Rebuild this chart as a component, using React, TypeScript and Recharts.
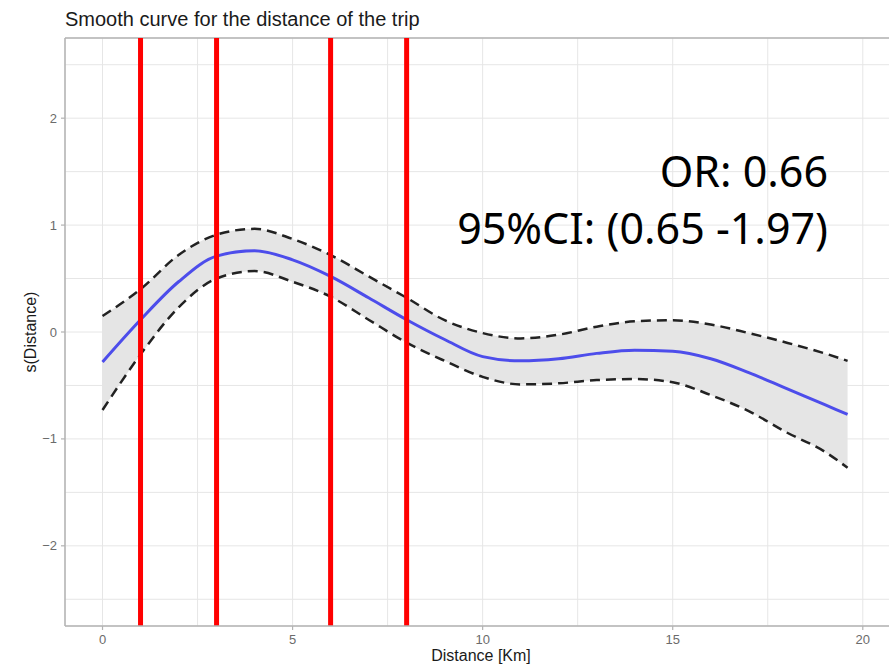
import React from 'react';
import { ComposedChart, Area, Line, XAxis, YAxis, CartesianGrid, ReferenceLine } from 'recharts';

const distance = [0, 1, 2, 3, 4, 5, 6, 7, 8, 9, 10, 11, 12, 13, 14, 15, 16, 17, 18, 19, 19.6];
const fit = [-0.28, 0.115, 0.47, 0.71, 0.76, 0.675, 0.52, 0.32, 0.115, -0.07, -0.23, -0.27, -0.25, -0.2, -0.17, -0.18, -0.25, -0.38, -0.53, -0.68, -0.77];
const upper = [0.15, 0.4, 0.72, 0.91, 0.965, 0.87, 0.72, 0.52, 0.32, 0.11, -0.01, -0.06, -0.025, 0.05, 0.1, 0.11, 0.07, -0.01, -0.1, -0.2, -0.27];
const lower = [-0.73, -0.21, 0.23, 0.5, 0.57, 0.47, 0.33, 0.115, -0.1, -0.27, -0.42, -0.49, -0.48, -0.45, -0.44, -0.47, -0.59, -0.74, -0.94, -1.12, -1.27];
const cutPoints = [1, 3, 6, 8];
const xTicks = [0, 2.5, 5, 7.5, 10, 12.5, 15, 17.5, 20];
const yTicks = [-2.5, -2, -1.5, -1, -0.5, 0, 0.5, 1, 1.5, 2, 2.5];
const xLabelTicks = [0, 5, 10, 15, 20];
const yLabelTicks = [-2, -1, 0, 1, 2];

const title = 'Smooth curve for the distance of the trip';
const xTitle = 'Distance [Km]';
const yTitle = 's(Distance)';
const noteLine1 = 'OR: 0.66';
const noteLine2 = '95%CI: (0.65 -1.97)';

const data = distance.map((d, i) => ({
  distance: d,
  fit: fit[i],
  upper: upper[i],
  lower: lower[i],
  band: [lower[i], upper[i]],
}));

const AXIS = '#b3b3b3';
const TICKTEXT = '#6b6b6b';

const fmt = (v: number) => (v < 0 ? '\u2212' + Math.abs(v) : String(v));

const XTick = (props: any) => {
  const { x, y, payload } = props;
  if (!xLabelTicks.includes(payload.value)) return <g />;
  return (
    <g>
      <line x1={x} x2={x} y1={y} y2={y + 4} stroke={AXIS} strokeWidth={1.2} />
      <text x={x} y={y + 17.5} textAnchor="middle" fontSize={13} fill={TICKTEXT} fontFamily="Liberation Sans, Arial, sans-serif">
        {fmt(payload.value)}
      </text>
    </g>
  );
};

const YTick = (props: any) => {
  const { x, y, payload } = props;
  if (!yLabelTicks.includes(payload.value)) return <g />;
  return (
    <g>
      <line x1={x - 4} x2={x} y1={y} y2={y} stroke={AXIS} strokeWidth={1.2} />
      <text x={x - 8} y={y + 4.5} textAnchor="end" fontSize={13} fill={TICKTEXT} fontFamily="Liberation Sans, Arial, sans-serif">
        {fmt(payload.value)}
      </text>
    </g>
  );
};

export default function App() {
  return (
    <div style={{ position: 'absolute', left: 0, top: 0, width: 889, height: 666, overflow: 'hidden', background: '#fff' }}>
      <ComposedChart width={900} height={666} data={data} margin={{ top: 38, right: 3, bottom: 0, left: 0 }}>
        <CartesianGrid stroke="#e6e6e6" strokeWidth={1} />
        <XAxis
          dataKey="distance"
          type="number"
          domain={[-0.987, 20.9]}
          ticks={xTicks}
          allowDataOverflow
          height={40}
          tickSize={0}
          tickMargin={0}
          tickLine={false}
          axisLine={{ stroke: AXIS, strokeWidth: 1.5 }}
          tick={<XTick />}
          interval={0}
        />
        <YAxis
          type="number"
          domain={[-2.75, 2.75]}
          ticks={yTicks}
          allowDataOverflow
          width={65}
          tickSize={0}
          tickMargin={0}
          tickLine={false}
          axisLine={{ stroke: AXIS, strokeWidth: 1.5 }}
          tick={<YTick />}
          interval={0}
        />
        <ReferenceLine y={2.75} stroke={AXIS} strokeWidth={1.5} />
        <Area dataKey="band" type="monotone" fill="#e5e5e5" fillOpacity={1} stroke="none" isAnimationActive={false} />
        <Line dataKey="upper" type="monotone" stroke="#222" strokeWidth={2.5} strokeDasharray="10 6" dot={false} isAnimationActive={false} />
        <Line dataKey="lower" type="monotone" stroke="#222" strokeWidth={2.5} strokeDasharray="10 6" dot={false} isAnimationActive={false} />
        <Line dataKey="fit" type="monotone" stroke="#4d4deb" strokeWidth={3} dot={false} isAnimationActive={false} />
        {cutPoints.map((c) => (
          <ReferenceLine key={c} x={c} stroke="#ff0000" strokeWidth={5} />
        ))}
      </ComposedChart>
      <svg width={889} height={666} style={{ position: 'absolute', left: 0, top: 0, pointerEvents: 'none' }}>
        <text x={65} y={26} fontSize={20} fill="#1a1a1a" fontFamily="Liberation Sans, Arial, sans-serif">{title}</text>
        <text x={481} y={661} fontSize={16} textAnchor="middle" fill="#1a1a1a" fontFamily="Liberation Sans, Arial, sans-serif">{xTitle}</text>
        <text x={36} y={332} fontSize={16} textAnchor="middle" fill="#1a1a1a" fontFamily="Liberation Sans, Arial, sans-serif" transform="rotate(-90 36 332)">{yTitle}</text>
        <text x={828} y={187} fontSize={43} textAnchor="end" fill="#000" fontFamily="Noto Sans, sans-serif">{noteLine1}</text>
        <text x={828} y={244} fontSize={43} textAnchor="end" fill="#000" fontFamily="Noto Sans, sans-serif">{noteLine2}</text>
      </svg>
    </div>
  );
}
